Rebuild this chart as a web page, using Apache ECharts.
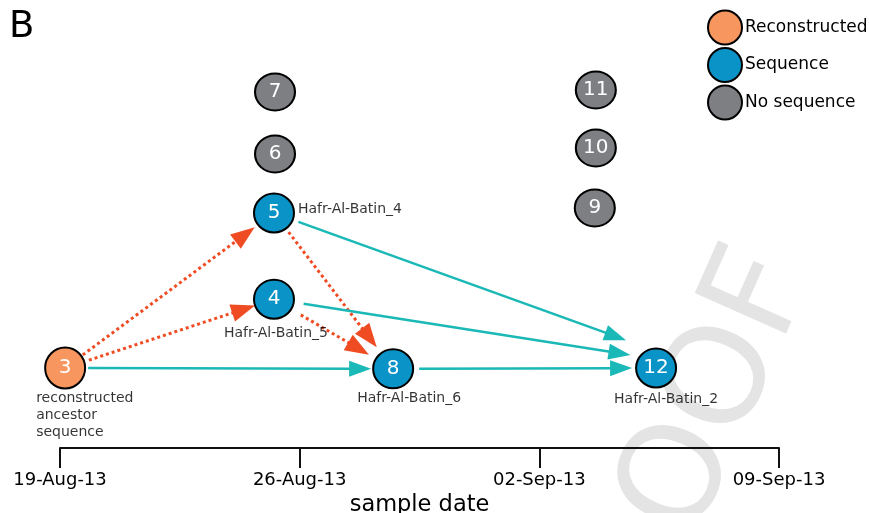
<!DOCTYPE html>
<html>
<head>
<meta charset="utf-8">
<script src="https://cdn.jsdelivr.net/npm/echarts@6/dist/echarts.min.js"></script>
<style>
html,body{margin:0;padding:0;background:#fff;}
#chart{width:869px;height:513px;}
</style>
</head>
<body>
<div id="chart"></div>
<script>
// ---------- data ----------
const tickLabels = ['19-Aug-13', '26-Aug-13', '02-Sep-13', '09-Sep-13'];
const nodeIds    = ['3', '7', '6', '5', '4', '8', '11', '10', '9', '12'];
// sample day, counted from 19-Aug-13
const nodeDay    = [0.15, 6.28, 6.28, 6.25, 6.25, 9.73, 15.65, 15.65, 15.62, 17.41];
// vertical layout level (arbitrary units)
const nodeLevel  = [2.0, 8.9, 7.35, 5.875, 3.72, 1.98, 8.95, 7.5, 6.0, 2.0];
const nodeType   = ['Reconstructed', 'No sequence', 'No sequence', 'Sequence', 'Sequence',
                    'Sequence', 'No sequence', 'No sequence', 'No sequence', 'Sequence'];
const nodeName   = ['reconstructed\nancestor\nsequence', '', '', 'Hafr-Al-Batin_4', 'Hafr-Al-Batin_5',
                    'Hafr-Al-Batin_6', '', '', '', 'Hafr-Al-Batin_2'];
const linkSource = ['3', '3', '3', '5', '4', '5', '4', '8'];
const linkTarget = ['5', '4', '8', '8', '8', '12', '12', '12'];
const linkKind   = ['dotted', 'dotted', 'solid', 'dotted', 'dotted', 'solid', 'solid', 'solid'];
const typeNames  = ['Reconstructed', 'Sequence', 'No sequence'];

// ---------- styles ----------
const FONT = 'DejaVu Sans';
const typeColor = { 'Reconstructed': '#f7965e', 'Sequence': '#0a93c6', 'No sequence': '#7d7f83' };
const typeSize  = { 'Reconstructed': [40, 41], 'Sequence': [40, 39], 'No sequence': [40, 37] };
const kindStyle = {
  dotted: { color: '#f04c24', width: 3, dash: [3, 3], arrowLen: 24, arrowW: 18 },
  solid:  { color: '#1ab8b6', width: 2.5, dash: null, arrowLen: 22, arrowW: 16 }
};
// per-link pixel tweaks: [startGap, endGap, aimOffsetY]
const linkTweak = [[22, 24, 0], [25, 20, 0], [23, 22, 0], [24, 27, 0], [31, 28, 0], [26, 32, -17], [30, 26, -9], [26, 24, 0]];
// name label placement [dx, dy, align]
const nameLabelPos = {
  '3': [-29, 47, 'left'], '5': [24, -4, 'left'], '4': [2, 34, 'center'],
  '8': [16, 30, 'center'], '12': [10, 31, 'center']
};

const idx = id => nodeIds.indexOf(id);

const edgeData = linkSource.map((s, i) => {
  const a = idx(s), b = idx(linkTarget[i]);
  return [nodeDay[a], nodeLevel[a], nodeDay[b], nodeLevel[b], i];
});

function renderEdge(params, api) {
  const i = api.value(4);
  const st = kindStyle[linkKind[i]];
  const tw = linkTweak[i];
  const p1 = api.coord([api.value(0), api.value(1)]);
  const p2 = api.coord([api.value(2), api.value(3)]);
  p2[1] += tw[2];
  const dx = p2[0] - p1[0], dy = p2[1] - p1[1];
  const len = Math.sqrt(dx * dx + dy * dy);
  const ux = dx / len, uy = dy / len, nx = -uy, ny = ux;
  const s = [p1[0] + ux * tw[0], p1[1] + uy * tw[0]];
  const tip = [p2[0] - ux * tw[1], p2[1] - uy * tw[1]];
  const base = [tip[0] - ux * st.arrowLen, tip[1] - uy * st.arrowLen];
  const lineEnd = [tip[0] - ux * (st.arrowLen - 3), tip[1] - uy * (st.arrowLen - 3)];
  return {
    type: 'group',
    children: [
      { type: 'line', shape: { x1: s[0], y1: s[1], x2: lineEnd[0], y2: lineEnd[1] },
        style: { stroke: st.color, lineWidth: st.width, lineDash: st.dash, fill: null } },
      { type: 'polygon', shape: { points: [tip,
          [base[0] + nx * st.arrowW / 2, base[1] + ny * st.arrowW / 2],
          [base[0] - nx * st.arrowW / 2, base[1] - ny * st.arrowW / 2]] },
        style: { fill: st.color } }
    ]
  };
}

const nodeSeries = typeNames.map(t => ({
  name: t,
  type: 'scatter',
  z: 3,
  symbol: 'circle',
  symbolSize: typeSize[t],
  itemStyle: { color: typeColor[t], borderColor: '#000', borderWidth: 2, opacity: 1 },
  label: { show: true, position: 'inside', color: '#fff', fontSize: 20, fontFamily: FONT,
           formatter: p => p.data.id },
  emphasis: { disabled: true },
  data: nodeIds.map((id, i) => nodeType[i] === t ? { id: id, value: [nodeDay[i], nodeLevel[i]] } : null)
               .filter(d => d)
}));

const nameSeries = {
  type: 'scatter',
  z: 4,
  symbolSize: 0,
  silent: true,
  data: nodeIds.map((id, i) => {
    if (!nodeName[i]) return null;
    const pos = nameLabelPos[id];
    return {
      value: [nodeDay[i], nodeLevel[i]],
      label: { show: true, formatter: nodeName[i], position: [pos[0], pos[1]], align: pos[2],
               verticalAlign: 'middle', fontSize: 14, lineHeight: 17, color: '#000', fontFamily: FONT }
    };
  }).filter(d => d)
};

const chart = echarts.init(document.getElementById('chart'), null, { renderer: 'canvas' });
chart.setOption({
  animation: false,
  backgroundColor: '#fff',
  textStyle: { fontFamily: FONT },
  grid: { left: 60, right: 90, top: 48, bottom: 65, containLabel: false, outerBoundsMode: 'none' },
  xAxis: {
    type: 'value', min: 0, max: 21, interval: 7,
    name: 'sample date', nameLocation: 'middle', nameGap: 40,
    nameTextStyle: { fontSize: 22.5, color: '#000', fontFamily: FONT },
    axisLine: { show: true, lineStyle: { color: '#111', width: 2 } },
    axisTick: { show: true, length: 20, lineStyle: { color: '#111', width: 2 } },
    axisLabel: { margin: 23, fontSize: 18, color: '#000', fontFamily: FONT,
                 formatter: v => tickLabels[Math.round(v / 7)] },
    splitLine: { show: false }
  },
  yAxis: { type: 'value', min: 0, max: 10, show: false },
  legend: {
    orient: 'vertical', left: 707, top: 9.5, padding: 0, itemWidth: 34, itemHeight: 34, itemGap: 1.5,
    icon: 'circle', data: typeNames, selectedMode: false,
    textStyle: { fontSize: 17, color: '#000', fontFamily: FONT, padding: [0, 0, 0, -2] },
    itemStyle: { borderColor: '#000', borderWidth: 2 }
  },
  graphic: [
    { type: 'text', left: 9, top: 9, z: 10,
      style: { text: 'B', fontSize: 37, fill: '#000', fontFamily: FONT } },
    { type: 'text', x: 684, y: 475, rotation: 66 * Math.PI / 180, z: -10, silent: true,
      style: { text: 'PROOF', fontSize: 137, fill: '#e4e4e4', fontFamily: FONT,
               textAlign: 'center', textVerticalAlign: 'middle' } }
  ],
  series: [
    { type: 'custom', z: 2, renderItem: renderEdge, data: edgeData, silent: true,
      encode: { x: [0, 2], y: [1, 3] } },
    ...nodeSeries,
    nameSeries
  ]
});
</script>
</body>
</html>
